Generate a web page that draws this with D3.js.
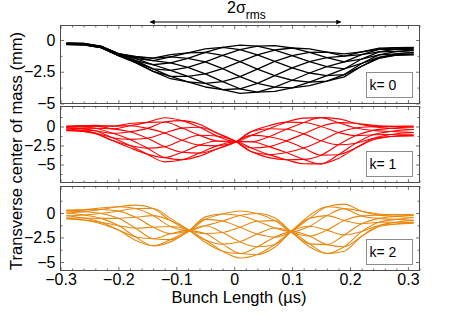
<!DOCTYPE html>
<html>
<head>
<meta charset="utf-8">
<script src="https://cdn.jsdelivr.net/npm/d3@7"></script>
<style>
  html, body { margin: 0; padding: 0; background: #fff; }
  svg { display: block; font-family: "Liberation Sans", Arial, Helvetica, sans-serif; }
</style>
</head>
<body>
<div id="chart"></div>
<script>
// sample points along the bunch (µs)
const gridTimes = [-0.29,-0.26,-0.23,-0.20,-0.17,-0.14,-0.11,-0.08,-0.05,-0.02,0.01,0.04,0.07,0.10,0.13,0.16,0.19,0.22,0.25,0.28,0.31];
const k1Times   = [-0.29,-0.27,-0.24,-0.21,-0.18,-0.15,-0.12,-0.09,-0.06,-0.03,0.00,0.03,0.06,0.09,0.12,0.15,0.18,0.21,0.24,0.27,0.31];

// transverse centre of mass (mm), one row per turn
const k0Curves = [
  [-0.24,-0.26,-0.50,-1.10,-1.47,-1.95,-2.39,-2.86,-3.42,-3.91,-4.20,-4.11,-3.71,-3.17,-2.60,-2.10,-1.72,-1.15,-0.73,-0.60,-0.58],
  [-0.25,-0.29,-0.53,-1.15,-1.63,-2.27,-2.87,-3.29,-3.70,-3.91,-3.84,-3.42,-2.81,-2.20,-1.70,-1.39,-1.27,-0.93,-0.65,-0.60,-0.64],
  [-0.28,-0.32,-0.57,-1.20,-1.75,-2.47,-3.05,-3.29,-3.42,-3.28,-2.89,-2.30,-1.69,-1.23,-0.98,-0.96,-1.10,-0.93,-0.73,-0.71,-0.79],
  [-0.32,-0.36,-0.60,-1.23,-1.80,-2.47,-2.87,-2.86,-2.67,-2.25,-1.71,-1.18,-0.79,-0.63,-0.70,-0.96,-1.27,-1.15,-0.93,-0.90,-0.97],
  [-0.35,-0.38,-0.61,-1.23,-1.75,-2.27,-2.39,-2.15,-1.73,-1.22,-0.76,-0.49,-0.45,-0.63,-0.98,-1.39,-1.72,-1.50,-1.17,-1.09,-1.12],
  [-0.36,-0.38,-0.60,-1.20,-1.63,-1.95,-1.81,-1.44,-0.98,-0.59,-0.40,-0.49,-0.79,-1.23,-1.70,-2.10,-2.28,-1.85,-1.37,-1.20,-1.18],
  [-0.35,-0.36,-0.57,-1.15,-1.47,-1.63,-1.33,-1.01,-0.70,-0.59,-0.76,-1.18,-1.69,-2.20,-2.60,-2.81,-2.73,-2.07,-1.45,-1.20,-1.12],
  [-0.32,-0.32,-0.53,-1.10,-1.35,-1.43,-1.15,-1.01,-0.98,-1.22,-1.71,-2.30,-2.81,-3.17,-3.32,-3.24,-2.90,-2.07,-1.37,-1.09,-0.97],
  [-0.28,-0.29,-0.50,-1.07,-1.30,-1.43,-1.33,-1.44,-1.73,-2.25,-2.89,-3.42,-3.71,-3.77,-3.60,-3.24,-2.73,-1.85,-1.17,-0.90,-0.79],
  [-0.25,-0.26,-0.49,-1.07,-1.35,-1.63,-1.81,-2.15,-2.67,-3.28,-3.84,-4.11,-4.05,-3.77,-3.32,-2.81,-2.28,-1.50,-0.93,-0.71,-0.64]
];

const k1Curves = [
  [0.05,0.08,0.05,-0.31,-0.70,-1.55,-2.65,-3.39,-3.50,-2.95,-2.15,-0.67,-0.30,-0.37,-0.97,-1.88,-2.41,-2.20,-1.57,-1.32,-1.25],
  [-0.01,-0.04,-0.23,-0.90,-1.70,-2.85,-4.10,-4.37,-3.90,-2.95,-2.12,-1.17,-1.35,-1.90,-2.83,-3.77,-3.71,-2.82,-1.75,-1.32,-1.13],
  [-0.16,-0.25,-0.57,-1.49,-2.50,-3.64,-4.65,-4.37,-3.50,-2.55,-2.05,-2.00,-2.65,-3.43,-4.33,-4.92,-4.20,-2.82,-1.57,-1.06,-0.80],
  [-0.34,-0.46,-0.85,-1.85,-2.80,-3.64,-4.10,-3.39,-2.45,-1.90,-1.95,-2.83,-3.70,-4.37,-4.90,-4.92,-3.71,-2.20,-1.09,-0.65,-0.40],
  [-0.49,-0.58,-0.95,-1.85,-2.50,-2.85,-2.65,-1.80,-1.15,-1.25,-1.88,-3.33,-4.10,-4.37,-4.33,-3.77,-2.41,-1.20,-0.51,-0.24,-0.07],
  [-0.55,-0.58,-0.85,-1.49,-1.70,-1.55,-0.85,-0.21,-0.10,-0.85,-1.85,-3.33,-3.70,-3.43,-2.83,-1.88,-0.79,-0.20,-0.03,0.02,0.05],
  [-0.49,-0.46,-0.57,-0.90,-0.70,-0.25,0.60,0.77,0.30,-0.85,-1.88,-2.83,-2.65,-1.90,-0.97,0.01,0.51,0.42,0.15,0.02,-0.07],
  [-0.34,-0.25,-0.23,-0.31,0.10,0.54,1.15,0.77,-0.10,-1.25,-1.95,-2.00,-1.35,-0.37,0.53,1.16,1.00,0.42,-0.03,-0.24,-0.40],
  [-0.16,-0.04,0.05,0.05,0.40,0.54,0.60,-0.21,-1.15,-1.90,-2.05,-1.17,-0.30,0.57,1.10,1.16,0.51,-0.20,-0.51,-0.65,-0.80],
  [-0.01,0.08,0.15,0.05,0.10,-0.25,-0.85,-1.80,-2.45,-2.55,-2.12,-0.67,0.10,0.57,0.53,0.01,-0.79,-1.20,-1.09,-1.06,-1.13]
];

const k2Curves = [
  [0.30,0.32,0.35,0.19,-0.44,-1.45,-2.12,-1.87,-0.65,-0.10,0.20,-0.06,-0.78,-1.97,-2.35,-1.75,-0.76,-0.30,-0.22,-0.17,-0.15],
  [0.21,0.12,-0.05,-0.55,-1.56,-2.63,-2.72,-1.91,-0.40,-0.10,-0.26,-0.85,-1.53,-1.90,-1.35,-0.27,0.44,0.18,-0.10,-0.17,-0.24],
  [-0.01,-0.20,-0.55,-1.29,-2.46,-3.35,-2.95,-1.91,-0.65,-0.82,-1.46,-2.15,-2.47,-1.83,-0.55,0.63,0.90,0.18,-0.22,-0.35,-0.46],
  [-0.29,-0.52,-0.95,-1.74,-2.80,-3.35,-2.72,-1.87,-1.30,-2.00,-2.94,-3.45,-3.22,-1.79,-0.25,0.63,0.44,-0.30,-0.55,-0.65,-0.74],
  [-0.51,-0.72,-1.10,-1.74,-2.46,-2.63,-2.12,-1.80,-2.10,-3.18,-4.14,-4.24,-3.50,-1.79,-0.55,-0.27,-0.76,-1.10,-0.95,-0.95,-0.96],
  [-0.60,-0.72,-0.95,-1.29,-1.56,-1.45,-1.38,-1.73,-2.75,-3.90,-4.60,-4.24,-3.22,-1.83,-1.35,-1.75,-2.24,-1.90,-1.28,-1.13,-1.05],
  [-0.51,-0.52,-0.55,-0.55,-0.44,-0.27,-0.78,-1.69,-3.00,-3.90,-4.14,-3.45,-2.47,-1.90,-2.35,-3.23,-3.44,-2.38,-1.40,-1.13,-0.96],
  [-0.29,-0.20,-0.05,0.19,0.46,0.45,-0.55,-1.69,-2.75,-3.18,-2.94,-2.15,-1.53,-1.97,-3.15,-4.13,-3.90,-2.38,-1.28,-0.95,-0.74],
  [-0.01,0.12,0.35,0.64,0.80,0.45,-0.78,-1.73,-2.10,-2.00,-1.46,-0.85,-0.78,-2.01,-3.45,-4.13,-3.44,-1.90,-0.95,-0.65,-0.46],
  [0.21,0.32,0.50,0.64,0.46,-0.27,-1.38,-1.80,-1.30,-0.82,-0.26,-0.06,-0.50,-2.01,-3.15,-3.23,-2.24,-1.10,-0.55,-0.35,-0.24]
];

const modeLabels = ["k= 0", "k= 1", "k= 2"];
const xTicks = [-0.3, -0.2, -0.1, 0, 0.1, 0.2, 0.3];
const xTickLabels = ["\u22120.3", "\u22120.2", "\u22120.1", "0", "0.1", "0.2", "0.3"];
const yTicks = [0, -2.5, -5];
const yTickLabels = ["0", "\u22122.5", "\u22125"];
const sigmaSpan = [-0.145, 0.184]; // 2 sigma_rms arrow, in µs

// layout
const width = 463, height = 332;
const plotLeft = 60.5, plotRight = 419.5;
const tickColor = "#4d4d4d";
const fontSize = 16;

const panels = [
  { curves: k0Curves, times: gridTimes, color: "#000000", width: 1.3, top: 25.5, bottom: 103.5, yDomain: [-5, 1.14], curve: d3.curveLinear },
  { curves: k1Curves, times: k1Times,   color: "#ff0000", width: 1.1, top: 106.5, bottom: 182.5, yDomain: [-7.37, 2.63], curve: d3.curveMonotoneX },
  { curves: k2Curves, times: gridTimes, color: "#e8880f", width: 1.1, top: 186.5, bottom: 270.5, yDomain: [-5.87, 2.70], curve: d3.curveMonotoneX }
];

const svg = d3.select("#chart").append("svg")
  .attr("width", width)
  .attr("height", height);

svg.append("rect").attr("width", width).attr("height", height).attr("fill", "#fff");

const x = d3.scaleLinear().domain([-0.3, 0.32]).range([plotLeft, plotRight]);

// minor ticks, every 0.02 on x and 1.25 on y
const xMinor = d3.range(-30, 33, 2).map(v => v / 100).filter(v => !xTicks.some(t => Math.abs(t - v) < 1e-6));
const yMinor = [1.25, -1.25, -3.75, -6.25];

function styleAxis(sel) {
  sel.select(".domain").remove();
  sel.selectAll("line").attr("stroke", tickColor).attr("stroke-width", 0.8);
  sel.attr("font-family", null).attr("font-size", fontSize);
  sel.selectAll("text").attr("fill", "#000");
}

panels.forEach((p, i) => {
  const y = d3.scaleLinear().domain(p.yDomain).range([p.bottom, p.top]);
  const g = svg.append("g").attr("class", "panel");

  g.append("clipPath").attr("id", "clip" + i)
    .append("rect")
    .attr("x", plotLeft).attr("y", p.top)
    .attr("width", plotRight - plotLeft).attr("height", p.bottom - p.top);

  const line = d3.line()
    .x((v, j) => x(p.times[j]))
    .y(v => y(v))
    .curve(p.curve);

  g.append("g").attr("clip-path", `url(#clip${i})`)
    .selectAll("path").data(p.curves)
    .join("path")
    .attr("d", line)
    .attr("fill", "none")
    .attr("stroke", p.color)
    .attr("stroke-width", p.width)
    .attr("stroke-linejoin", "round");

  // y axes left and right, ticks pointing inward
  const yMin = yMinor.filter(v => v > p.yDomain[0] && v < p.yDomain[1]);
  g.append("g").attr("transform", `translate(${plotLeft},0)`)
    .call(d3.axisLeft(y).tickValues(yTicks).tickSize(-3.5).tickPadding(5).tickFormat((d, k) => yTickLabels[k]))
    .call(styleAxis);
  g.append("g").attr("transform", `translate(${plotLeft},0)`)
    .call(d3.axisLeft(y).tickValues(yMin).tickSize(-2).tickFormat(""))
    .call(styleAxis);
  g.append("g").attr("transform", `translate(${plotRight},0)`)
    .call(d3.axisRight(y).tickValues(yTicks).tickSize(-3.5).tickFormat(""))
    .call(styleAxis);
  g.append("g").attr("transform", `translate(${plotRight},0)`)
    .call(d3.axisRight(y).tickValues(yMin).tickSize(-2).tickFormat(""))
    .call(styleAxis);

  // x axes top and bottom
  const last = i === panels.length - 1;
  g.append("g").attr("transform", `translate(0,${p.bottom})`)
    .call(d3.axisBottom(x).tickValues(xTicks).tickSize(-3.5).tickPadding(last ? 3 : 0)
      .tickFormat((d, k) => last ? xTickLabels[k] : ""))
    .call(styleAxis);
  g.append("g").attr("transform", `translate(0,${p.bottom})`)
    .call(d3.axisBottom(x).tickValues(xMinor).tickSize(-2).tickFormat(""))
    .call(styleAxis);
  g.append("g").attr("transform", `translate(0,${p.top})`)
    .call(d3.axisTop(x).tickValues(xTicks).tickSize(-3.5).tickFormat(""))
    .call(styleAxis);
  g.append("g").attr("transform", `translate(0,${p.top})`)
    .call(d3.axisTop(x).tickValues(xMinor).tickSize(-2).tickFormat(""))
    .call(styleAxis);

  // box
  g.append("rect")
    .attr("x", plotLeft).attr("y", p.top)
    .attr("width", plotRight - plotLeft).attr("height", p.bottom - p.top)
    .attr("fill", "none")
    .attr("stroke", tickColor)
    .attr("stroke-width", 1);

  // legend box
  const lw = 46, lh = 25;
  const lx = plotRight - 7 - lw, ly = p.bottom - 6 - lh;
  g.append("rect")
    .attr("x", lx).attr("y", ly).attr("width", lw).attr("height", lh)
    .attr("fill", "#fff").attr("stroke", "#8c8c8c").attr("stroke-width", 1);
  g.append("text")
    .attr("x", lx + 3).attr("y", ly + 17)
    .attr("font-size", 14)
    .text(modeLabels[i]);
});

// axis titles
svg.append("text")
  .attr("transform", "translate(22,151) rotate(-90)")
  .attr("text-anchor", "middle")
  .attr("font-size", 16.5)
  .text("Transverse center of mass (mm)");

svg.append("text")
  .attr("x", 239).attr("y", 303)
  .attr("text-anchor", "middle")
  .attr("font-size", 16.5)
  .text("Bunch Length (\u00b5s)");

// 2 sigma_rms arrow
const defs = svg.append("defs");
defs.append("marker")
  .attr("id", "arrowhead")
  .attr("viewBox", "0 0 10 10")
  .attr("refX", 9).attr("refY", 5)
  .attr("markerWidth", 8).attr("markerHeight", 5)
  .attr("markerUnits", "userSpaceOnUse")
  .attr("orient", "auto-start-reverse")
  .append("path").attr("d", "M0,0 L10,5 L0,10 z").attr("fill", "#000");

svg.append("line")
  .attr("x1", x(sigmaSpan[0])).attr("x2", x(sigmaSpan[1]))
  .attr("y1", 22).attr("y2", 22)
  .attr("stroke", "#000").attr("stroke-width", 1.2)
  .attr("marker-start", "url(#arrowhead)")
  .attr("marker-end", "url(#arrowhead)");

const sig = svg.append("text")
  .attr("x", 227).attr("y", 13)
  .attr("font-size", 16)
  .text("2\u03c3");
sig.append("tspan")
  .attr("dy", 6)
  .attr("font-size", 12)
  .text("rms");
</script>
</body>
</html>
